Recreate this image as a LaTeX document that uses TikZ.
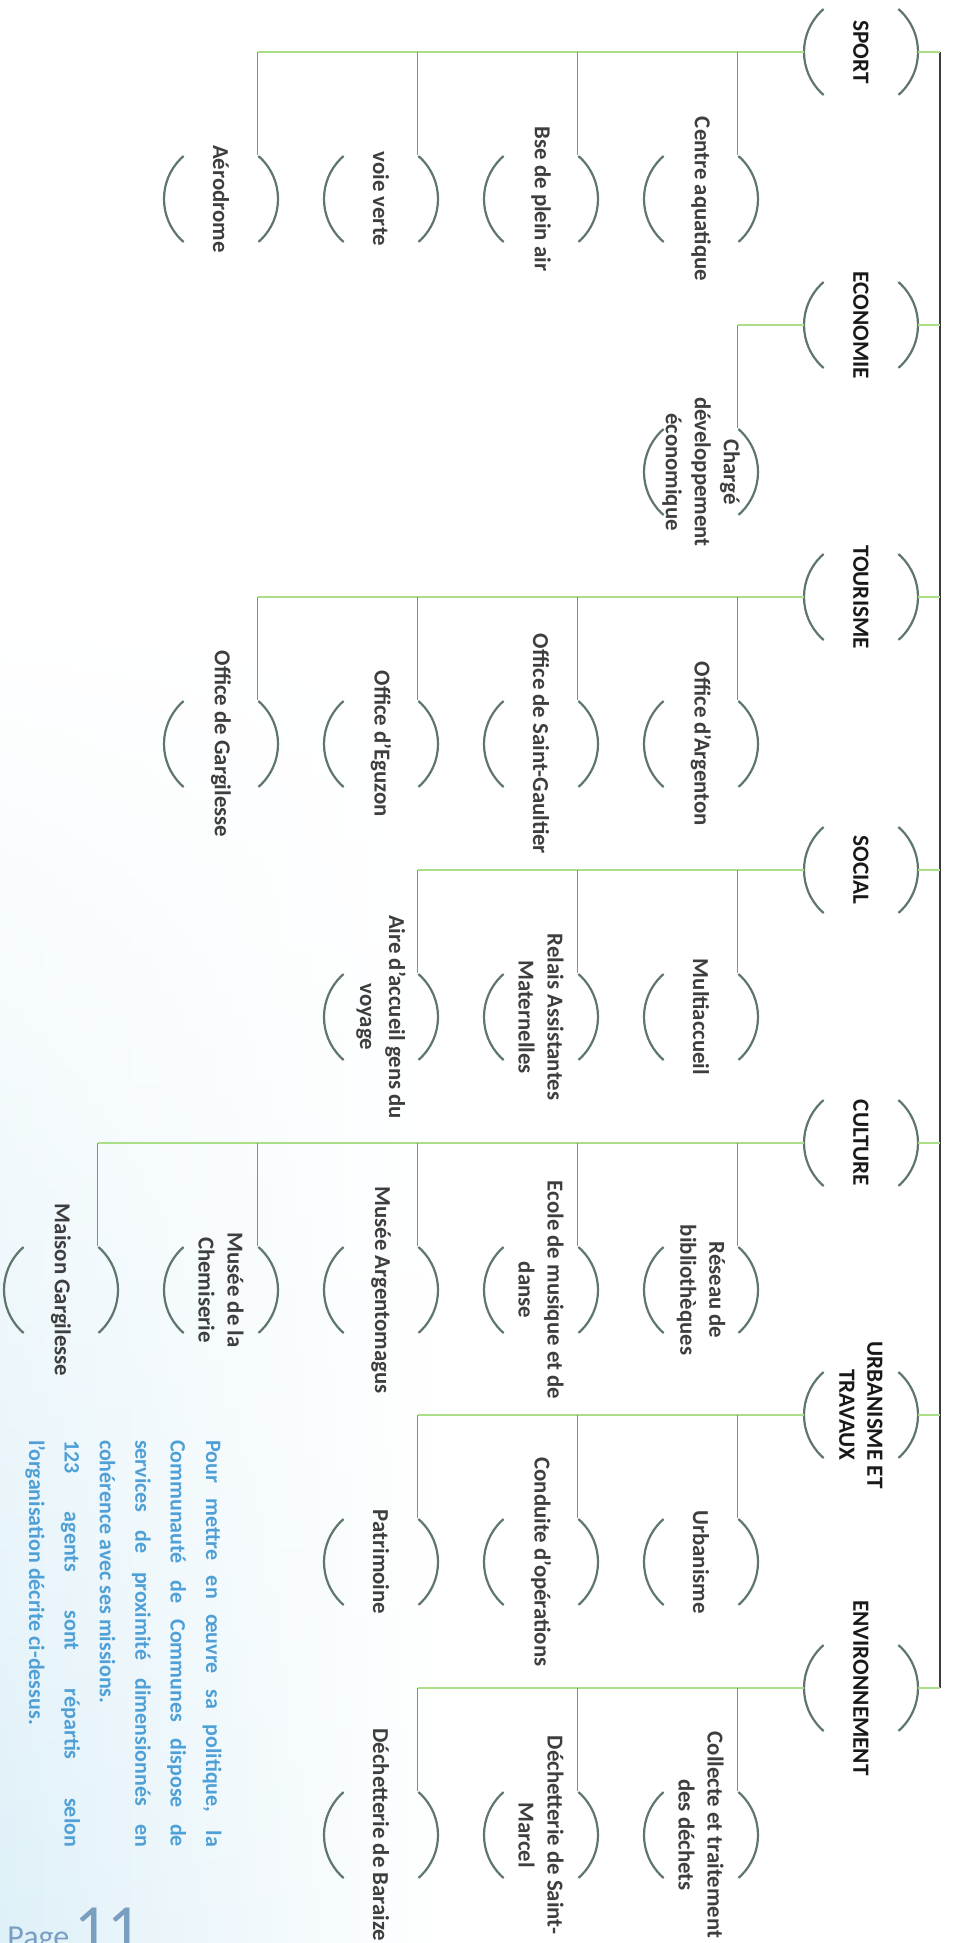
\documentclass[tikz,border=0pt]{standalone}
\usepackage{fontspec}
\setmainfont{Carlito}
\usetikzlibrary{fadings}
\definecolor{trunk_gray}{RGB}{60,60,60}
\definecolor{arc_gray}{RGB}{95,118,108}
\definecolor{branch_green}{RGB}{170,222,135}
\definecolor{stub_green}{RGB}{95,165,105}
\definecolor{text_gray}{RGB}{62,62,62}
\definecolor{note_blue}{RGB}{78,160,214}
\definecolor{page_blue}{RGB}{122,158,192}
\definecolor{wash_blue}{RGB}{222,240,248}

\begin{document}
\begin{tikzpicture}[x=0.5pt,y=-0.5pt]
    \tikzstyle{unit}=[circle, minimum size=57pt, inner sep=0pt, outer sep=0pt, draw=arc_gray, line width=1.1pt,
                      dash pattern=on 48.75pt off 40.79pt, dash phase=24.37pt]
    \tikzstyle{cattext}=[draw=none, rotate=-90, align=center, text=black!90, font=\bfseries\fontsize{11.6}{14}\selectfont]
    \tikzstyle{unittext}=[draw=none, rotate=-90, align=center, text=text_gray, font=\bfseries\fontsize{11.4}{14.5}\selectfont]
    \tikzstyle{trunk}=[draw=trunk_gray, line width=1pt]
    \tikzstyle{tie}=[draw=branch_green, line width=0.8pt]
    \tikzstyle{hbranch}=[draw=branch_green, line width=0.8pt]
    \tikzstyle{vstub}=[draw=stub_green, line width=0.8pt]
    \tikzstyle{note}=[rotate=-90, text width=203.5pt, align=justify, inner sep=0pt, text=note_blue,
                      font=\bfseries\fontsize{11}{17.7}\selectfont]

    \useasboundingbox (0,0) rectangle (953,1943);
    \clip (0,0) rectangle (953,1943);

    % page wash
    \shade[left color=wash_blue, right color=white, path fading=north] (0,620) rectangle (440,1943);

    % categories
    \node[unit, label={[cattext]center:SPORT}]         (sport) at (861,52)   {};
    \node[unit, label={[cattext]center:ECONOMIE}]      (eco)   at (861,325)  {};
    \node[unit, label={[cattext]center:TOURISME}]      (tour)  at (861,597)  {};
    \node[unit, label={[cattext]center:SOCIAL}]        (soc)   at (861,870)  {};
    \node[unit, label={[cattext]center:CULTURE}]       (cult)  at (861,1143) {};
    \node[unit, label={[cattext]center:{URBANISME ET\\TRAVAUX}}] (urb) at (861,1415) {};
    \node[unit, label={[cattext]center:ENVIRONNEMENT}] (env)   at (861,1688) {};
    \coordinate (ttop) at (940,52);
    \coordinate (tbot) at (940,1688);

    % sport
    \node[unit, label={[unittext]center:Centre aquatique}] (cenaq) at (701,199) {};
    \node[unit, label={[unittext]center:Bse de plein air}] (plein) at (541,199) {};
    \node[unit, label={[unittext]center:voie verte}]       (voie)  at (381,199) {};
    \node[unit, label={[unittext]center:Aérodrome}]        (aero)  at (221,199) {};
    % economie
    \node[unit, label={[unittext]center:{Chargé\\développement\\économique}}] (charge) at (701,472) {};
    % tourisme
    \node[unit, label={[unittext]center:Office d'Argenton}]       (argo)  at (701,744) {};
    \node[unit, label={[unittext]center:Office de Saint-Gaultier}] (gaul)  at (541,744) {};
    \node[unit, label={[unittext]center:Office d'Eguzon}]         (eguz)  at (381,744) {};
    \node[unit, label={[unittext]center:Office de Gargilesse}]    (garo)  at (221,744) {};
    % social
    \node[unit, label={[unittext]center:Multiaccueil}]                      (multi) at (701,1017) {};
    \node[unit, label={[unittext]center:{Relais Assistantes\\Maternelles}}] (relais) at (541,1017) {};
    \node[unit, label={[unittext]center:{Aire d'accueil gens du\\voyage}}]  (aire)  at (381,1017) {};
    % culture
    \node[unit, label={[unittext]center:{Réseau de\\bibliothèques}}]          (biblio) at (701,1290) {};
    \node[unit, label={[unittext]center:{Ecole de musique et de\\danse}}]     (ecole)  at (541,1290) {};
    \node[unit, label={[unittext]center:Musée Argentomagus}]                  (argm)   at (381,1290) {};
    \node[unit, label={[unittext]center:{Musée de la\\Chemiserie}}]           (chemi)  at (221,1290) {};
    \node[unit, label={[unittext]center:Maison Gargilesse}]                   (maison) at (61,1290)  {};
    % urbanisme
    \node[unit, label={[unittext]center:Urbanisme}]             (urba)  at (701,1562) {};
    \node[unit, label={[unittext]center:Conduite d'opérations}] (cond)  at (541,1562) {};
    \node[unit, label={[unittext]center:Patrimoine}]            (patri) at (381,1562) {};
    % environnement
    \node[unit, label={[unittext]center:{Collecte et traitement\\des déchets}}] (coll) at (701,1835) {};
    \node[unit, label={[unittext]center:{Déchetterie de Saint-\\Marcel}}]      (stm)  at (541,1835) {};
    \node[unit, label={[unittext]center:Déchetterie de Baraize}]               (bar)  at (381,1835) {};

    \path[trunk] (ttop) edge (tbot);
    \path
     (sport.east) edge[tie] (sport.east -| ttop)
     (eco.east)   edge[tie] (eco.east -| ttop)
     (tour.east)  edge[tie] (tour.east -| ttop)
     (soc.east)   edge[tie] (soc.east -| ttop)
     (cult.east)  edge[tie] (cult.east -| ttop)
     (urb.east)   edge[tie] (urb.east -| ttop)
     (env.east)   edge[tie] (env.east -| ttop)
     ;
    \path
     (sport.west) edge[hbranch] (aero.50 |- sport.west)
     (cenaq.50 |- sport.west) edge[vstub] (cenaq.50)
     (plein.50 |- sport.west) edge[vstub] (plein.50)
     (voie.50 |- sport.west)  edge[vstub] (voie.50)
     (aero.50 |- sport.west)  edge[vstub] (aero.50)
     (eco.west) edge[hbranch] (charge.50 |- eco.west)
     (charge.50 |- eco.west) edge[vstub] (charge.50)
     (tour.west) edge[hbranch] (garo.50 |- tour.west)
     (argo.50 |- tour.west) edge[vstub] (argo.50)
     (gaul.50 |- tour.west) edge[vstub] (gaul.50)
     (eguz.50 |- tour.west) edge[vstub] (eguz.50)
     (garo.50 |- tour.west) edge[vstub] (garo.50)
     (soc.west) edge[hbranch] (aire.50 |- soc.west)
     (multi.50 |- soc.west)  edge[vstub] (multi.50)
     (relais.50 |- soc.west) edge[vstub] (relais.50)
     (aire.50 |- soc.west)   edge[vstub] (aire.50)
     (cult.west) edge[hbranch] (maison.50 |- cult.west)
     (biblio.50 |- cult.west) edge[vstub] (biblio.50)
     (ecole.50 |- cult.west)  edge[vstub] (ecole.50)
     (argm.50 |- cult.west)   edge[vstub] (argm.50)
     (chemi.50 |- cult.west)  edge[vstub] (chemi.50)
     (maison.50 |- cult.west) edge[vstub] (maison.50)
     (urb.west) edge[hbranch] (patri.50 |- urb.west)
     (urba.50 |- urb.west)  edge[vstub] (urba.50)
     (cond.50 |- urb.west)  edge[vstub] (cond.50)
     (patri.50 |- urb.west) edge[vstub] (patri.50)
     (env.west) edge[hbranch] (bar.50 |- env.west)
     (coll.50 |- env.west) edge[vstub] (coll.50)
     (stm.50 |- env.west)  edge[vstub] (stm.50)
     (bar.50 |- env.west)  edge[vstub] (bar.50)
     ;

    % note
    \node[note] (note) at (123.5,1643.5) {Pour mettre en œuvre sa politique, la\linebreak
      Communauté de Communes dispose de\linebreak services de proximité dimensionnés en\linebreak
      cohérence avec ses missions.\par
      123 agents sont répartis selon\linebreak l'organisation décrite ci-dessus.};

    \node[anchor=base west, inner sep=0pt, text=page_blue, font=\fontsize{16}{16}\selectfont] (pg) at (7,1947) {Page};
    \node[anchor=base west, inner sep=0pt, text=page_blue, font=\fontsize{33}{33}\selectfont] (pgnum) at (74,1950) {11};
\end{tikzpicture}
\end{document}
